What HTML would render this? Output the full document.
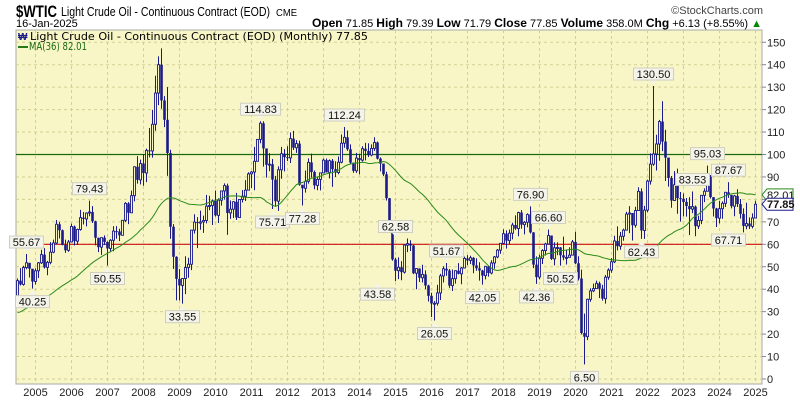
<!DOCTYPE html>
<html><head><meta charset="utf-8">
<style>
html,body{margin:0;padding:0;background:#fff;width:800px;height:400px;overflow:hidden}
svg{display:block;font-family:"Liberation Sans",Arial,sans-serif}
</style></head>
<body>
<svg id="chart" width="800" height="400" viewBox="0 0 800 400" xmlns="http://www.w3.org/2000/svg">
<text x="16" y="17" font-size="17" font-weight="bold" textLength="41" lengthAdjust="spacingAndGlyphs">$WTIC</text>
<text x="61" y="16" font-size="13" textLength="209" lengthAdjust="spacingAndGlyphs">Light Crude Oil - Continuous Contract (EOD)</text>
<text x="276" y="16" font-size="10" textLength="21" lengthAdjust="spacingAndGlyphs">CME</text>
<text x="16" y="27" font-size="11">16-Jan-2025</text>
<text x="763" y="14" font-size="11" fill="#444" text-anchor="end">©StockCharts.com</text>
<text x="762" y="27" font-size="11" text-anchor="end"><tspan font-weight="bold" font-size="12">Open</tspan> 71.85 <tspan font-weight="bold" font-size="12">High</tspan> 79.39 <tspan font-weight="bold" font-size="12">Low</tspan> 71.79 <tspan font-weight="bold" font-size="12">Close</tspan> 77.85 <tspan font-weight="bold" font-size="12">Volume</tspan> 358.0M <tspan font-weight="bold" font-size="12">Chg</tspan> +6.13 (+8.55%) <tspan fill="#080">▲</tspan></text>
<rect x="16" y="30" width="746" height="354" fill="#f8f6c6" stroke="#aaa" stroke-width="1"/>
<g id="grid"></g>
<g id="lines"></g>
<g id="candles"></g>
<g id="ma"></g>
<g id="notes"></g>
<g id="axes"></g>
<text x="30" y="40" font-size="11" font-family="DejaVu Sans, sans-serif" textLength="338" lengthAdjust="spacingAndGlyphs">Light Crude Oil - Continuous Contract (EOD) (Monthly) 77.85</text>
<text x="18" y="40" font-size="10" fill="#1a1a8c" font-weight="bold">₩</text>
<rect x="18" y="46" width="10" height="2" fill="#2a7a1a"/>
<text x="29" y="50" font-size="11" fill="#1a6a10" font-family="DejaVu Sans, sans-serif" textLength="58" lengthAdjust="spacingAndGlyphs">MA(36) 82.01</text>
</svg>
<script>
const priorCloses=[26.35,27.20,23.43,21.18,19.44,19.84,19.48,21.74,26.31,27.29,25.31,26.86,27.02,28.98,30.45,27.22,26.89,31.20,33.51,36.60,31.04,25.80,29.56,30.19,30.54,31.57,29.20,29.11,30.41,32.52,33.05,36.16,35.76,37.38,39.88,37.05];
const closes=[43.80,42.12,49.64,51.76,49.13,43.45,
48.20,51.75,55.40,49.72,51.97,56.50,60.57,68.94,66.24,59.76,57.32,61.04,
67.92,61.41,66.63,71.88,71.29,73.93,74.40,70.26,62.91,58.73,62.97,61.05,
58.14,61.79,65.87,65.71,64.01,70.68,78.21,74.04,81.66,94.53,88.71,95.98,
91.75,101.84,101.58,113.46,127.35,140.00,124.08,115.46,100.64,67.81,54.43,44.60,
41.68,44.76,49.66,51.12,66.31,69.89,69.45,69.96,70.61,77.00,77.28,79.36,
72.89,79.66,83.76,86.15,73.97,75.63,78.95,71.92,79.97,81.43,84.11,91.38,
92.19,96.97,106.72,113.93,102.70,95.42,95.70,88.81,79.20,93.19,100.36,98.83,
98.48,107.07,103.02,104.87,86.53,84.96,88.06,96.47,92.19,86.24,88.91,91.82,
97.49,92.05,97.23,93.46,91.97,96.56,105.03,107.65,102.33,96.38,92.72,98.42,
97.49,102.59,101.58,99.74,102.71,105.37,98.17,95.96,91.16,80.54,66.15,53.27,
48.24,49.76,47.60,59.63,60.30,59.47,47.12,49.20,45.09,46.59,41.65,37.04,
33.62,33.75,38.34,45.92,49.10,48.33,41.60,44.70,48.24,46.86,49.44,53.72,
52.81,54.01,50.60,49.33,48.32,46.04,50.17,47.23,51.67,54.38,57.40,60.42,
64.73,61.64,64.94,68.57,67.04,74.15,68.76,69.80,73.25,65.31,50.93,45.41,
53.79,57.22,60.14,63.91,53.50,58.47,58.58,55.10,54.07,54.18,55.17,61.06,
51.56,44.76,20.48,18.84,35.49,39.27,40.27,42.61,40.22,35.79,45.34,48.52,
52.20,61.50,59.16,63.58,66.32,73.47,73.95,68.50,75.03,83.57,66.18,75.21,
88.15,95.72,100.28,104.69,114.67,105.76,98.62,89.55,79.49,86.53,80.55,80.26,
78.87,77.05,75.67,76.78,68.09,70.64,81.80,83.63,90.79,81.02,75.96,71.65,
75.85,78.26,83.17,81.93,76.99,81.54,77.91,73.55,68.17,69.26,68.00,71.72,
77.85];
const highs=[44.77,49.40,50.47,55.67,51.00,46.50,
49.30,52.10,57.60,58.30,52.60,60.95,62.10,70.85,70.00,66.60,62.10,61.90,
69.20,68.40,67.00,75.35,74.40,74.20,79.43,77.00,70.50,63.00,63.00,64.00,
61.30,62.30,68.10,68.10,66.90,70.70,78.80,78.80,83.90,94.70,99.30,97.70,
100.10,102.60,111.80,119.90,135.10,143.70,147.27,126.00,130.00,102.10,69.00,54.70,
49.00,44.80,54.70,54.00,66.40,73.40,72.10,75.00,72.80,82.00,81.60,80.00,
83.95,80.50,83.90,87.15,87.00,79.50,79.20,82.90,80.20,84.20,88.60,92.10,
92.60,103.40,106.95,114.83,114.80,102.60,100.60,98.00,90.50,94.70,103.40,102.40,
103.70,109.80,110.50,106.40,106.20,85.30,92.90,98.30,100.40,92.90,89.80,91.90,
98.20,98.20,97.80,98.00,97.00,99.10,108.90,112.24,110.70,104.50,95.70,100.70,
100.40,103.70,105.20,104.99,104.50,107.70,105.80,98.70,95.90,92.30,80.60,68.40,
54.00,54.20,52.50,59.90,62.58,61.80,59.70,49.30,49.30,50.90,48.40,42.00,
38.40,34.70,41.90,46.80,50.20,51.67,49.00,48.75,48.40,51.60,49.90,54.50,
55.20,54.90,54.30,53.80,52.00,48.60,50.40,50.40,52.90,54.80,57.90,60.50,
66.70,66.20,66.60,69.60,72.90,74.50,75.30,70.40,73.80,76.90,65.40,54.60,
55.40,57.80,60.70,66.60,63.80,60.90,60.90,58.80,63.40,57.50,58.70,61.90,
65.65,54.70,48.70,29.10,35.80,40.40,42.50,43.80,43.40,41.90,46.30,49.30,
53.90,63.80,67.98,65.50,67.00,74.50,76.98,73.70,76.70,85.40,84.90,77.10,
88.80,100.50,130.50,108.80,115.40,123.70,111.00,97.80,90.40,92.60,93.70,83.30,
82.70,80.60,81.00,83.53,77.30,72.70,82.00,84.90,95.03,90.80,80.20,76.20,
79.30,79.10,83.20,87.67,82.00,82.00,84.50,80.20,76.00,78.50,72.00,73.80,
79.39];
const lows=[38.20,41.65,41.60,48.90,45.20,40.25,
42.10,45.00,51.20,49.20,46.20,51.10,56.00,60.10,62.60,59.50,56.20,56.70,
60.80,59.50,59.70,66.10,68.80,68.00,72.50,69.50,59.50,56.50,55.30,59.70,
50.55,56.50,56.90,62.50,61.40,64.10,69.90,69.00,73.90,79.10,87.00,86.70,
86.10,87.70,98.70,98.60,110.60,122.00,120.40,112.20,90.50,62.50,49.00,35.00,
35.00,33.55,37.80,45.10,48.50,64.80,58.30,66.50,65.10,69.30,75.20,68.60,
72.40,69.50,77.20,79.90,64.20,71.30,71.70,70.80,72.60,78.60,79.30,84.00,
85.10,84.10,96.90,105.00,94.60,89.70,92.60,75.71,77.10,74.90,89.20,92.50,
97.10,96.20,102.00,100.70,86.10,77.28,83.00,87.00,89.70,84.50,84.10,84.00,
91.60,92.00,89.30,85.60,90.00,91.20,96.10,103.00,101.60,95.60,91.80,91.80,
91.20,96.80,97.40,98.90,99.20,101.60,97.80,92.50,90.40,79.50,65.70,52.70,
43.58,44.50,44.00,47.00,56.50,57.00,46.70,40.00,43.20,43.00,40.00,34.50,
27.60,26.05,32.70,35.20,43.00,46.00,40.60,39.20,42.50,46.60,42.20,49.90,
50.70,51.20,47.10,48.20,43.80,42.05,44.40,45.60,46.60,49.10,53.80,55.80,
59.90,58.10,59.95,62.20,66.40,63.60,67.00,64.40,67.60,64.80,49.40,42.36,
44.35,51.20,55.00,59.90,53.00,50.60,55.20,50.52,52.90,50.99,54.60,55.40,
51.20,43.90,19.90,6.50,17.30,34.40,38.70,40.50,36.10,34.90,33.60,44.20,
47.30,51.60,57.30,57.60,61.60,66.10,65.00,61.70,67.40,74.90,62.43,62.40,
74.30,86.60,95.00,92.90,97.20,101.50,88.20,85.70,76.30,79.30,73.60,70.10,
72.50,72.30,64.10,73.90,63.60,66.80,69.00,78.80,83.50,80.40,72.40,67.71,
69.30,71.40,76.60,80.70,76.00,72.50,76.60,71.50,65.30,66.70,66.80,67.10,
71.79];
const yTicks=[0,10,20,30,40,50,60,70,80,90,100,110,120,130,140,150];
const yearLabels=["2005","2006","2007","2008","2009","2010","2011","2012","2013","2014","2015","2016","2017","2018","2019","2020","2021","2022","2023","2024","2025"];
const refLevels=[60,100];
const noteIdx=[3,5,24,30,55,81,85,95,109,126,120,139,143,155,171,173,177,181,189,208,212,230,225,237,237];
const noteVal=[55.67,40.25,79.43,50.55,33.55,114.83,75.71,77.28,112.24,62.58,43.58,26.05,51.67,42.05,76.90,42.36,66.60,50.52,6.50,62.43,130.50,95.03,83.53,87.67,67.71];
const noteUp=[1,0,1,0,0,1,0,0,1,1,0,0,1,0,1,0,1,0,0,0,1,1,1,1,0];

const NS="http://www.w3.org/2000/svg";
function X(i){return 17.5+3*i;}
function Y(v){return 379-2.245*v;}
function mk(tag,attrs,parent){const e=document.createElementNS(NS,tag);for(const k in attrs)e.setAttribute(k,attrs[k]);parent.appendChild(e);return e;}
const grid=document.getElementById('grid'),axes=document.getElementById('axes'),lines=document.getElementById('lines'),cg=document.getElementById('candles'),mag=document.getElementById('ma'),notes=document.getElementById('notes');

yTicks.forEach(t=>{
  const y=Y(t);
  const l=mk('line',{x1:16,x2:762,y1:y,y2:y,stroke:'#d2d094','stroke-dasharray':'3,3','stroke-width':1},grid);
  
  
  const tk=mk('line',{x1:762,x2:766,y1:y,y2:y,stroke:'#888'},axes);
  
  
  const tx=mk('text',{x:767,y:y+4,'font-size':11,fill:'#222'},axes);
  tx.textContent=String(t);
  
  
});
yearLabels.forEach((lab,k)=>{
  const x=X(6+12*k);
  const l=mk('line',{x1:x,x2:x,y1:30,y2:384,stroke:'#d2d094','stroke-dasharray':'3,3','stroke-width':1},grid);
  
  
  const tx=mk('text',{x:x,y:396,'font-size':11,'text-anchor':'middle',fill:'#222'},axes);
  tx.textContent=lab;
  
  
});
refLevels.forEach((v,k)=>{
  const l=mk('line',{x1:16,x2:762,y1:Y(v),y2:Y(v),stroke:k===0?'#cc1010':'#1a6a10','stroke-width':1.2},lines);
  
  
});
closes.forEach((c,i)=>{
  const o=i===0?priorCloses[priorCloses.length-1]:closes[i-1];
  const x=X(i);
  const g=mk('g',{},cg);
  
  
  mk('line',{x1:x,x2:x,y1:Y(highs[i]),y2:Y(lows[i]),stroke:'#1a1a8c','stroke-width':1},g);
  const top=Y(Math.max(o,c)),bot=Y(Math.min(o,c));
  const h=Math.max(1,bot-top);
  if(c>=o){mk('rect',{x:x-1,y:top,width:2,height:h,fill:'#f8f6c6',stroke:'#1a1a8c','stroke-width':0.9},g);}
  else{mk('rect',{x:x-1.3,y:top,width:2.6,height:h,fill:'#1a1a8c'},g);}
});
const all=priorCloses.concat(closes);
let pts=[];
for(let i=0;i<closes.length;i++){
  const j=i+priorCloses.length;let s=0;
  for(let k=j-35;k<=j;k++)s+=all[k];
  pts.push(X(i).toFixed(1)+','+Y(s/36).toFixed(1));
}
const ma=mk('polyline',{points:pts.join(' '),fill:'none',stroke:'#2a8a1a','stroke-width':1},mag);


noteVal.forEach((v,k)=>{
  const x=X(noteIdx[k]);const up=noteUp[k];
  const txt=v.toFixed(2);const w=txt.length*6+4;
  const py=up?Y(v)-2:Y(v)+2;
  const by=up?py-16:py+5;
  const g=mk('g',{},notes);
  
  
  mk('polygon',{points:up?`${x-4},${by+12} ${x+4},${by+12} ${x},${py}`:`${x-4},${by} ${x+4},${by} ${x},${py}`,fill:'#f4f4ea'},g);
  mk('rect',{x:x-w/2,y:by,width:w,height:12,fill:'#f4f4ea',stroke:'#cfcfbf','stroke-width':1},g);
  const t=mk('text',{x:x,y:by+10,'font-size':11,'text-anchor':'middle',fill:'#111'},g);
  t.textContent=txt;
});
function tag(v,txt,col,bold,name){
  const y=Y(v);
  const g=mk('g',{},axes);
  
  
  mk('polygon',{points:`762,${y} 767,${y-6} 793,${y-6} 793,${y+6} 767,${y+6}`,fill:'#fff',stroke:col,'stroke-width':1},g);
  const t=mk('text',{x:767,y:y+4,'font-size':11,fill:'#111','font-weight':bold?'bold':'normal'},g);
  t.textContent=txt;
}
tag(82.01,'82.01','#2a8a1a',false,'ma-value-tag');
tag(77.85,'77.85','#1a1a8c',true,'last-price-tag');
</script>
</body></html>
